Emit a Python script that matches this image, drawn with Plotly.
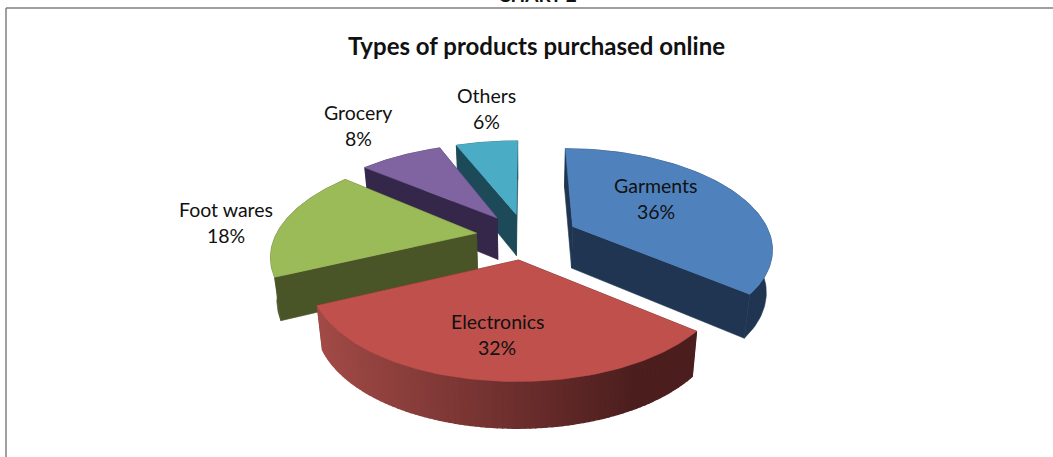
import numpy as np
import plotly.graph_objects as go

# Survey shares, clockwise from twelve o'clock
categories = ["Garments", "Electronics", "Foot wares", "Grocery", "Others"]
shares = [36, 32, 18, 8, 6]

top_colors = ["#4F81BD", "#BF504C", "#9BBB59", "#8064A2", "#4BACC6"]
wall_colors = ["#1F3552", "#4E1F1E", "#4A5527", "#35274A", "#1C4A58"]
paint_order = [4, 3, 2, 0, 1]

# Projection of the tilted pie onto the page
CX, CY = 525, 236
RX, RY = 205, 96
PERSPECTIVE = 0.2
DEPTH = 42
CONVERGE = 0.025
EXPLODE = 0.24
SLICE_SHIFT = [4, 0, 0, 0, 0]
SLICE_SCALE_X = [0.965, 0.945, 0.98, 1.0, 1.0]
SLICE_SCALE_Y = [1.01, 0.925, 1.0, 1.0, 1.0]
LABEL_XY = [(656, 185), (497, 321), (226, 209), (358, 112), (486, 95)]
LINE_GAP = 26


def project(x, y, z=0.0, shift=0):
    s = 1 / (1 - PERSPECTIVE * y)
    # Vertical edges lean inward as they go down
    return (CX + shift + RX * x * s * (1 - CONVERGE * z),
            CY + RY * y * s + z * DEPTH * s ** 0.4)


def polygon(fig, px, py, color, width=0.6):
    fig.add_trace(go.Scatter(
        x=px, y=py, mode="lines", fill="toself", fillcolor=color,
        line=dict(color=color, width=width), hoverinfo="skip", showlegend=False,
    ))


def mix(a, b, t):
    return "rgb(%d,%d,%d)" % tuple(a[i] + (b[i] - a[i]) * t for i in range(3))


fig = go.Figure()
edges = np.cumsum([0] + shares) / sum(shares) * 2 * np.pi
for i in paint_order:
    start, end = edges[i], edges[i + 1]
    mid = (start + end) / 2
    ox, oy = EXPLODE * np.sin(mid), -EXPLODE * np.cos(mid)
    t = np.linspace(start, end, 91)
    ax_ = ox + SLICE_SCALE_X[i] * np.sin(t)
    ay_ = oy - SLICE_SCALE_Y[i] * np.cos(t)
    sh = SLICE_SHIFT[i]

    # Cut faces on either side of the wedge
    for k in (0, -1):
        p0 = project(ox, oy, 0, sh)
        p1 = project(ax_[k], ay_[k], 0, sh)
        p2 = project(ax_[k], ay_[k], 1, sh)
        p3 = project(ox, oy, 1, sh)
        polygon(fig, [p0[0], p1[0], p2[0], p3[0], p0[0]],
                [p0[1], p1[1], p2[1], p3[1], p0[1]], wall_colors[i])

    # Outer wall; the front slice is shaded in strips running left to right
    if i == 1:
        for j in range(90):
            a = project(ax_[j], ay_[j], 0, sh)
            b = project(ax_[j + 1], ay_[j + 1], 0, sh)
            c = project(ax_[j + 1], ay_[j + 1], 1, sh)
            d = project(ax_[j], ay_[j], 1, sh)
            frac = np.clip((640 - a[0]) / 330, 0, 1)
            col = mix((76, 30, 30), (165, 76, 72), frac)
            polygon(fig, [a[0], b[0], c[0], d[0], a[0]], [a[1], b[1], c[1], d[1], a[1]], col, 1.4)
    else:
        ux, uy = project(ax_, ay_, 0, sh)
        lx, ly = project(ax_[::-1], ay_[::-1], 1, sh)
        polygon(fig, np.r_[ux, lx, ux[0]], np.r_[uy, ly, uy[0]], wall_colors[i])

    tx, ty = project(np.r_[ox, ax_, ox], np.r_[oy, ay_, oy], 0, sh)
    polygon(fig, tx, ty, top_colors[i])

for name, share, (lx, ly) in zip(categories, shares, LABEL_XY):
    for text, y in ((name, ly), (f"{share}%", ly + LINE_GAP)):
        fig.add_annotation(x=lx, y=y, text=text, showarrow=False,
                           font=dict(family="Lato", size=19.5, color="#111111"))

fig.add_annotation(x=536, y=45.5, text="<b>Types of products purchased online</b>", showarrow=False,
                   font=dict(family="Lato", size=24, color="#111111"))
# Heading above the frame, cut off by the top of the page
fig.add_annotation(x=537, y=8, yanchor="bottom", text="<b>CHART 2</b>", showarrow=False,
                   font=dict(family="Lato", size=19, color="#111111"))

border = dict(color="#808080", width=1.5)
fig.add_shape(type="line", x0=6, x1=1053, y0=8, y1=8, line=border)
fig.add_shape(type="line", x0=6, x1=6, y0=8, y1=457, line=border)

fig.update_xaxes(range=[0, 1053], visible=False, fixedrange=True)
fig.update_yaxes(range=[457, 0], visible=False, fixedrange=True)
fig.update_layout(width=1053, height=457, margin=dict(l=0, r=0, t=0, b=0),
                  paper_bgcolor="white", plot_bgcolor="white")
fig.write_html("out.html")
